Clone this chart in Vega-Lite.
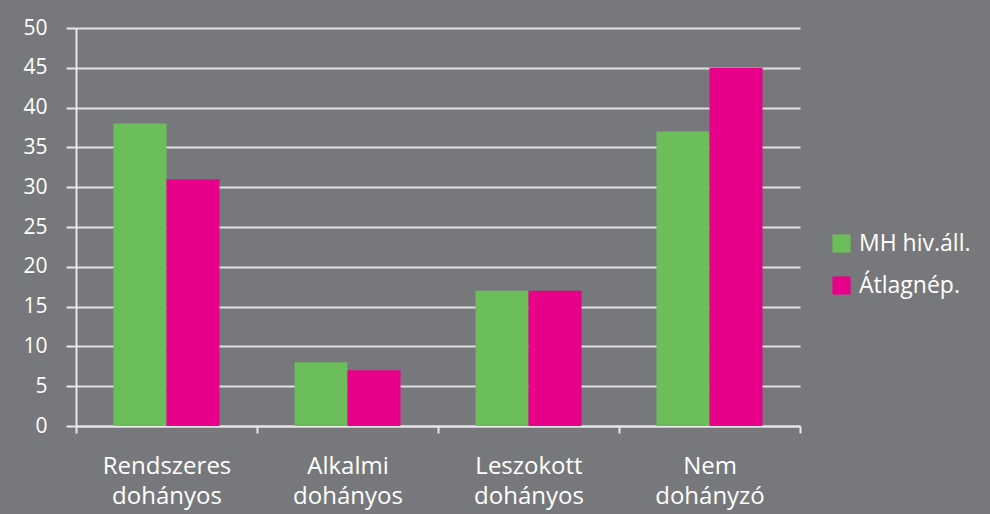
{
  "$schema": "https://vega.github.io/schema/vega-lite/v6.json",
  "width": 724,
  "height": 398,
  "autosize": {"type": "none"},
  "padding": {"left": 76, "top": 28, "right": 190, "bottom": 88},
  "background": "#77787b",
  "data": {
    "values": [
      {"kategoria": "Rendszeres dohányos", "csoport": "MH hiv.áll.", "ertek": 38},
      {"kategoria": "Rendszeres dohányos", "csoport": "Átlagnép.", "ertek": 31},
      {"kategoria": "Alkalmi dohányos", "csoport": "MH hiv.áll.", "ertek": 8},
      {"kategoria": "Alkalmi dohányos", "csoport": "Átlagnép.", "ertek": 7},
      {"kategoria": "Leszokott dohányos", "csoport": "MH hiv.áll.", "ertek": 17},
      {"kategoria": "Leszokott dohányos", "csoport": "Átlagnép.", "ertek": 17},
      {"kategoria": "Nem dohányzó", "csoport": "MH hiv.áll.", "ertek": 37},
      {"kategoria": "Nem dohányzó", "csoport": "Átlagnép.", "ertek": 45}
    ]
  },
  "mark": {"type": "bar"},
  "encoding": {
    "x": {
      "field": "kategoria",
      "type": "nominal",
      "sort": ["Rendszeres dohányos", "Alkalmi dohányos", "Leszokott dohányos", "Nem dohányzó"],
      "scale": {"paddingInner": 0, "paddingOuter": 0},
      "axis": {
        "title": null,
        "labelAngle": 0,
        "labelExpr": "split(datum.label, ' ')",
        "labelLineHeight": 30,
        "labelFontSize": 24,
        "labelFontWeight": 500,
        "labelColor": "#ffffff",
        "labelFont": "Open Sans",
        "labelPadding": 21,
        "tickBand": "extent",
        "tickSize": 7,
        "tickColor": "#e8e8e8",
        "tickWidth": 2,
        "domainColor": "#e8e8e8",
        "domainWidth": 2,
        "grid": false
      }
    },
    "xOffset": {
      "field": "csoport",
      "type": "nominal",
      "sort": ["MH hiv.áll.", "Átlagnép."],
      "scale": {"paddingInner": 0, "paddingOuter": 0.707}
    },
    "y": {
      "field": "ertek",
      "type": "quantitative",
      "scale": {"domain": [0, 50], "nice": false},
      "axis": {
        "title": null,
        "values": [0, 5, 10, 15, 20, 25, 30, 35, 40, 45, 50],
        "labelFontSize": 21,
        "labelFontWeight": 500,
        "labelColor": "#ffffff",
        "labelFont": "Open Sans",
        "labelPadding": 19,
        "tickSize": 10,
        "tickColor": "#e8e8e8",
        "tickWidth": 2,
        "domainColor": "#e8e8e8",
        "domainWidth": 2,
        "grid": true,
        "gridColor": "#e0e0e0",
        "gridWidth": 2
      }
    },
    "color": {
      "field": "csoport",
      "type": "nominal",
      "sort": ["MH hiv.áll.", "Átlagnép."],
      "scale": {"domain": ["MH hiv.áll.", "Átlagnép."], "range": ["#6cbe5a", "#e8008a"]},
      "legend": {
        "title": null,
        "orient": "none",
        "legendX": 754,
        "legendY": 204,
        "symbolType": "square",
        "symbolSize": 330,
        "symbolStrokeWidth": 0,
        "labelFontSize": 23,
        "labelFontWeight": 500,
        "labelColor": "#ffffff",
        "labelFont": "Open Sans",
        "rowPadding": 18,
        "labelOffset": 6
      }
    }
  },
  "config": {
    "view": {"stroke": null}
  }
}
